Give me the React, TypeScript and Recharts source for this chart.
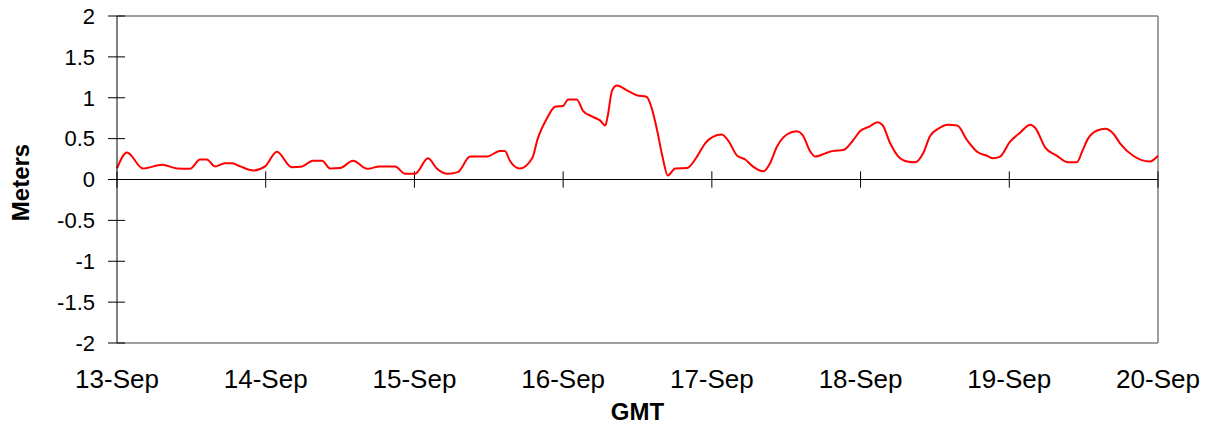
import React from 'react';
import { LineChart, Line, XAxis, YAxis, ReferenceLine } from 'recharts';

// Hours since 13-Sep 00:00 GMT
const hours = [0, 1.6, 4.2, 7.3, 9.7, 11.8, 13.4, 14.5, 15.8, 17.4, 18.6, 19.9, 22.0, 23.9, 25.8, 28.2, 29.9, 31.6, 33.1, 34.4, 36.0, 38.1, 40.4, 42.4, 44.9, 46.5, 48.1, 50.2, 51.6, 53.4, 55.0, 57.0, 59.7, 61.8, 62.6, 63.4, 65.0, 67.0, 67.9, 69.4, 70.7, 72.0, 72.8, 74.2, 75.2, 76.7, 78.0, 78.8, 79.2, 79.9, 80.7, 82.3, 83.9, 85.5, 86.3, 87.2, 88.0, 88.9, 90.1, 92.0, 93.6, 94.9, 95.7, 97.6, 98.6, 100.1, 101.4, 102.6, 104.3, 105.4, 106.5, 108.1, 109.7, 110.6, 111.9, 112.7, 114.3, 115.6, 117.2, 118.8, 119.9, 121.5, 122.7, 123.5, 124.8, 126.1, 127.5, 128.8, 130.1, 131.2, 132.5, 134.1, 135.6, 137.2, 138.8, 140.4, 141.4, 142.5, 144.1, 145.7, 147.4, 148.2, 149.8, 151.7, 153.5, 154.9, 155.8, 156.7, 158.2, 159.5, 160.8, 161.9, 164.0, 166.7, 168.0];

// Water level (meters)
const levels = [0.135, 0.33, 0.135, 0.18, 0.135, 0.13, 0.245, 0.245, 0.16, 0.2, 0.2, 0.16, 0.11, 0.16, 0.34, 0.15, 0.16, 0.23, 0.23, 0.135, 0.14, 0.23, 0.13, 0.16, 0.16, 0.07, 0.07, 0.26, 0.135, 0.07, 0.09, 0.28, 0.28, 0.35, 0.35, 0.23, 0.135, 0.26, 0.5, 0.75, 0.89, 0.9, 0.98, 0.98, 0.84, 0.77, 0.72, 0.66, 0.78, 1.09, 1.15, 1.09, 1.03, 1.01, 0.87, 0.59, 0.29, 0.05, 0.135, 0.14, 0.28, 0.44, 0.5, 0.55, 0.48, 0.29, 0.245, 0.16, 0.1, 0.2, 0.4, 0.55, 0.59, 0.55, 0.34, 0.28, 0.32, 0.35, 0.36, 0.48, 0.59, 0.65, 0.7, 0.67, 0.44, 0.28, 0.22, 0.21, 0.32, 0.53, 0.62, 0.67, 0.66, 0.48, 0.34, 0.29, 0.26, 0.28, 0.46, 0.57, 0.67, 0.63, 0.39, 0.29, 0.21, 0.21, 0.35, 0.5, 0.6, 0.62, 0.56, 0.44, 0.29, 0.22, 0.29];

const xTicks = [0, 24, 48, 72, 96, 120, 144, 168];
const xTickLabels = ['13-Sep', '14-Sep', '15-Sep', '16-Sep', '17-Sep', '18-Sep', '19-Sep', '20-Sep'];
const yTicks = [-2, -1.5, -1, -0.5, 0, 0.5, 1, 1.5, 2];

const data = hours.map((h, i) => ({ h, v: levels[i] }));

const FONT = '"Liberation Sans", Arial, sans-serif';

export default function App() {
  return (
    <div style={{ position: 'absolute', left: 0, top: 0, background: '#fff' }}>
      <LineChart
        width={1213}
        height={428}
        data={data}
        margin={{ top: 16, right: 55, bottom: 25, left: 0 }}
      >
        <XAxis
          dataKey="h"
          type="number"
          domain={[0, 168]}
          ticks={xTicks}
          tickFormatter={(v: number) => xTickLabels[xTicks.indexOf(v)] ?? ''}
          axisLine={false}
          tickLine={false}
          tickSize={0}
          tickMargin={27}
          height={60}
          interval={0}
          tick={{ fontFamily: FONT, fontSize: 26, fill: '#000' }}
          label={{
            value: 'GMT',
            position: 'center',
            dy: 38,
            style: { fontFamily: FONT, fontSize: 24, fontWeight: 'bold', fill: '#000' },
          }}
        />
        <YAxis
          type="number"
          domain={[-2, 2]}
          ticks={yTicks}
          interval={0}
          width={117}
          tickSize={9}
          tickMargin={13}
          axisLine={{ stroke: '#000', strokeWidth: 1 }}
          tickLine={{ stroke: '#000', strokeWidth: 1 }}
          tick={{ fontFamily: FONT, fontSize: 22, fill: '#000' }}
          tickFormatter={(v: number) => String(v)}
          label={{
            value: 'Meters',
            angle: -90,
            position: 'center',
            dx: -38.5,
            dy: 3,
            style: { fontFamily: FONT, fontSize: 24, fontWeight: 'bold', fill: '#000', textAnchor: 'middle' },
          }}
        />
        {/* plot frame */}
        <ReferenceLine y={2} stroke="#808080" strokeWidth={1.5} />
        <ReferenceLine y={-2} stroke="#808080" strokeWidth={1.5} />
        <ReferenceLine x={168} stroke="#808080" strokeWidth={1.5} />
        {/* zero axis line */}
        <ReferenceLine y={0} stroke="#000" strokeWidth={1} />
        {/* inner halves of y ticks */}
        {yTicks.map((t) => (
          <ReferenceLine
            key={'yt' + t}
            segment={[{ x: 0, y: t }, { x: 1.3, y: t }]}
            stroke="#000"
            strokeWidth={1}
          />
        ))}
        {/* x tick marks crossing zero line */}
        {xTicks.map((t) => (
          <ReferenceLine
            key={'xt' + t}
            segment={[{ x: t, y: -0.1 }, { x: t, y: 0.1 }]}
            stroke="#000"
            strokeWidth={1}
          />
        ))}
        <Line
          type="monotone"
          dataKey="v"
          stroke="#FF0000"
          strokeWidth={2}
          dot={false}
          isAnimationActive={false}
        />
      </LineChart>
    </div>
  );
}
